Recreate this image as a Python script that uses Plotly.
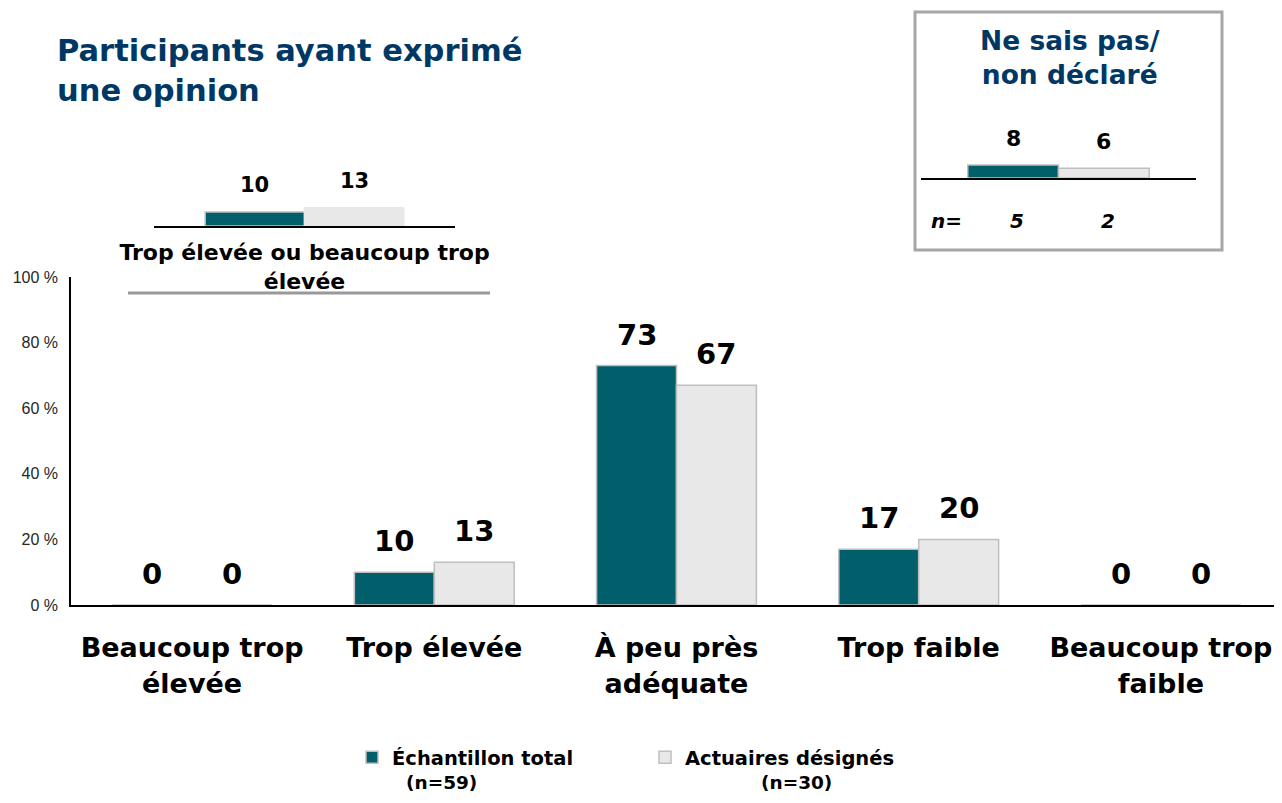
import plotly.graph_objects as go

# ---- data ----
categories = ["Beaucoup trop<br>élevée", "Trop élevée", "À peu près<br>adéquate",
              "Trop faible", "Beaucoup trop<br>faible"]
total = [0, 10, 73, 17, 0]
actuaires = [0, 13, 67, 20, 0]
series_names = ["Échantillon total", "Actuaires désignés"]
series_n = ["(n=59)", "(n=30)"]

combo_cat = ["Trop élevée ou beaucoup trop<br>élevée"]
combo_total = [10]
combo_act = [13]

dk_cat = ["Ne sais pas/non déclaré"]
dk_total = [8]
dk_act = [6]
dk_n = [5, 2]

y_ticks = [0, 20, 40, 60, 80, 100]
y_tick_text = [f"{v} %" for v in y_ticks]

title_text = "Participants ayant exprimé<br>une opinion"
dk_title = "Ne sais pas/<br>non déclaré"

# ---- styles ----
TEAL = "#005F6B"
GREY = "#E8E8E8"
OUTLINE = "#BFBFBF"
NAVY = "#003865"
BOLD = "DejaVu Sans"
PAGE_OFF = 8            # default body margin of the html page
W, H = 1282 - 2 * PAGE_OFF, 803 - 2 * PAGE_OFF


def px_x(p):
    return (p - PAGE_OFF) / W


def px_y(p):
    return 1 - (p - PAGE_OFF) / H


fig = go.Figure()

# main bars
fig.add_trace(go.Bar(x=categories, y=total, name=series_names[0],
                     marker=dict(color=TEAL, line=dict(color=OUTLINE, width=1.5)),
                     xaxis="x", yaxis="y"))
fig.add_trace(go.Bar(x=categories, y=actuaires, name=series_names[1],
                     marker=dict(color=GREY, line=dict(color=OUTLINE, width=1.5)),
                     xaxis="x", yaxis="y"))
# inset 1
fig.add_trace(go.Bar(x=combo_cat, y=combo_total, showlegend=False,
                     marker=dict(color=TEAL, line=dict(color=OUTLINE, width=1.5)),
                     xaxis="x2", yaxis="y2"))
fig.add_trace(go.Bar(x=combo_cat, y=combo_act, showlegend=False,
                     marker=dict(color=GREY, line=dict(color=GREY, width=1.5)),
                     xaxis="x2", yaxis="y2"))
# inset 2
fig.add_trace(go.Bar(x=dk_cat, y=dk_total, showlegend=False,
                     marker=dict(color=TEAL, line=dict(color=OUTLINE, width=1.5)),
                     xaxis="x3", yaxis="y3"))
fig.add_trace(go.Bar(x=dk_cat, y=dk_act, showlegend=False,
                     marker=dict(color=GREY, line=dict(color=OUTLINE, width=1.5)),
                     xaxis="x3", yaxis="y3"))

annotations = []
OFF = 0.165
for i, c in enumerate(categories):
    for v, d in ((total[i], -OFF), (actuaires[i], OFF)):
        annotations.append(dict(x=i + d, y=v, xref="x", yref="y", text=str(v),
                                showarrow=False, yanchor="middle", yshift=31,
                                font=dict(family=BOLD, size=29, color="black", weight="bold")))
for v, d in ((combo_total[0], -OFF), (combo_act[0], OFF)):
    annotations.append(dict(x=d, y=v, xref="x2", yref="y2", text=str(v),
                            showarrow=False, yanchor="middle", yshift=27,
                            font=dict(family=BOLD, size=21, color="black", weight="bold")))
for v, d in ((dk_total[0], -OFF), (dk_act[0], OFF)):
    annotations.append(dict(x=d, y=v, xref="x3", yref="y3", text=str(v),
                            showarrow=False, yanchor="middle", yshift=27,
                            font=dict(family=BOLD, size=22, color="black", weight="bold")))
for v, d in zip(dk_n, (-OFF, OFF)):
    annotations.append(dict(x=d, y=px_y(221), xref="x3", yref="paper", text=str(v),
                            showarrow=False, yanchor="middle", xshift=4,
                            font=dict(family=BOLD, size=20, color="black", weight="bold",
                                      style="italic")))
annotations.append(dict(x=px_x(946), y=px_y(221), xref="paper", yref="paper", text="n=",
                        showarrow=False, yanchor="middle", xanchor="center",
                        font=dict(family=BOLD, size=20, color="black", weight="bold",
                                  style="italic")))
annotations.append(dict(x=px_x(1070), y=px_y(57), xref="paper", yref="paper", text=dk_title,
                        showarrow=False, yanchor="middle", xanchor="center",
                        font=dict(family=BOLD, size=26.5, color=NAVY, weight="bold")))
annotations.append(dict(x=px_x(55), y=px_y(71), xref="paper", yref="paper", text=title_text,
                        showarrow=False, yanchor="middle", xanchor="left", align="left",
                        font=dict(family=BOLD, size=30.5, color=NAVY, weight="bold")))
for t, xc in zip(series_n, (441, 796)):
    annotations.append(dict(x=px_x(xc), y=px_y(782), xref="paper", yref="paper", text=t,
                            showarrow=False, yanchor="middle", xanchor="center", borderpad=0,
                            font=dict(family=BOLD, size=18.5, color="black", weight="bold")))

shapes = [
    dict(type="rect", xref="paper", yref="paper",
         x0=px_x(915), x1=px_x(1222), y0=px_y(250), y1=px_y(12),
         line=dict(color="#A6A6A6", width=3), fillcolor="rgba(0,0,0,0)"),
    dict(type="line", xref="paper", yref="paper",
         x0=px_x(128), x1=px_x(490), y0=px_y(293), y1=px_y(293),
         line=dict(color="#999999", width=3)),
]

# category spacing of the reference: 5 slots across 71..1282 px
slot = (1282 - 71) / 5
x_right = 4.5 - (1282 - (W + PAGE_OFF)) / slot

fig.update_layout(
    width=W, height=H,
    margin=dict(l=0, r=0, t=0, b=0, autoexpand=False),
    paper_bgcolor="white", plot_bgcolor="white",
    barmode="group", bargap=0.34, bargroupgap=0,
    showlegend=True,
    legend=dict(orientation="h", x=px_x(352), y=px_y(738), xanchor="left", yanchor="top",
                font=dict(family=BOLD, size=19.5, color="black", weight="bold"),
                entrywidth=248, entrywidthmode="pixels", bgcolor="rgba(0,0,0,0)",
                traceorder="normal"),
    xaxis=dict(domain=[px_x(71), 1], anchor="y", type="category", range=[-0.5, x_right],
               showline=True, linecolor="black", linewidth=2, ticks="", automargin=False,
               tickfont=dict(family=BOLD, size=27, color="black", weight="bold"),
               ticklabelstandoff=18, showgrid=False, zeroline=False),
    yaxis=dict(domain=[px_y(605), px_y(277)], anchor="x", range=[0, 100],
               tickvals=y_ticks, ticktext=y_tick_text, showline=True, linecolor="black",
               linewidth=1.5, ticks="", showgrid=False, zeroline=False, automargin=False,
               tickfont=dict(family="Liberation Sans", size=16, color="#262626"),
               ticklabelstandoff=8),
    xaxis2=dict(domain=[px_x(154), px_x(455)], anchor="y2", type="category",
                range=[-0.5, 0.5], showline=True, linecolor="black", linewidth=1.5,
                ticks="", showgrid=False, zeroline=False, automargin=False,
                tickfont=dict(family=BOLD, size=22, color="black", weight="bold"),
                ticklabelstandoff=6),
    yaxis2=dict(domain=[px_y(226), px_y(198)], anchor="x2", range=[0, 20], visible=False,
                automargin=False),
    xaxis3=dict(domain=[px_x(921), px_x(1196)], anchor="y3", type="category",
                range=[-0.5, 0.5], showline=True, linecolor="black", linewidth=1.5,
                ticks="", showticklabels=False, showgrid=False, zeroline=False,
                automargin=False),
    yaxis3=dict(domain=[px_y(178), px_y(145.6)], anchor="x3", range=[0, 20], visible=False,
                automargin=False),
    annotations=annotations,
    shapes=shapes,
)

fig.write_html("out.html")
